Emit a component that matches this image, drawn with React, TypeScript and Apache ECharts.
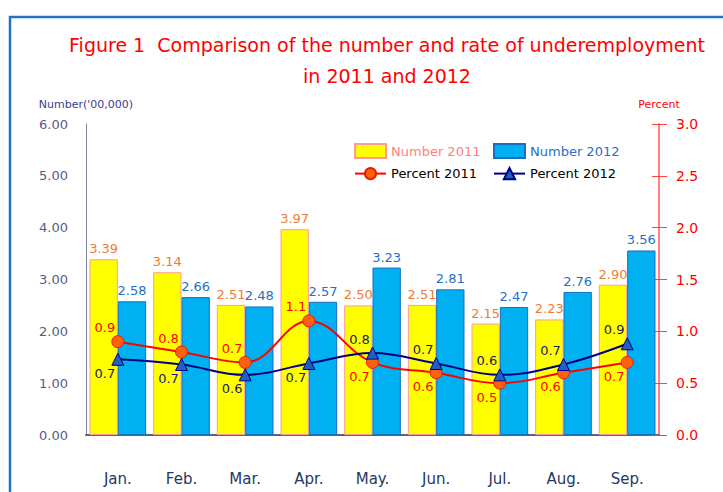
import React, { useEffect, useRef } from "react";
import * as echarts from "echarts";

const categories = ["Jan.", "Feb.", "Mar.", "Apr.", "May.", "Jun.", "Jul.", "Aug.", "Sep."];
const number2011 = [3.39, 3.14, 2.51, 3.97, 2.5, 2.51, 2.15, 2.23, 2.9];
const number2012 = [2.58, 2.66, 2.48, 2.57, 3.23, 2.81, 2.47, 2.76, 3.56];
const percent2011 = [0.9, 0.8, 0.7, 1.1, 0.7, 0.6, 0.5, 0.6, 0.7];
const percent2012 = [0.73, 0.68, 0.58, 0.69, 0.79, 0.69, 0.58, 0.68, 0.88];

const FONT = "DejaVu Sans";

export default function App() {
  const ref = useRef<HTMLDivElement>(null);
  useEffect(() => {
    if (!ref.current) return;
    const chart = echarts.init(ref.current, undefined, { renderer: "svg" });

    const above = (a: number, b: number) => a >= b;
    const pctLabel = (isAbove: boolean, color: string) => ({
      show: true,
      position: isAbove ? "top" : "bottom",
      distance: 1,
      offset: [-13, 0],
      color,
      fontSize: 13,
      fontFamily: FONT,
      formatter: (p: any) => Number(p.value).toFixed(1),
    });

    const option: any = {
      animation: false,
      backgroundColor: "#ffffff",
      textStyle: { fontFamily: FONT },
      title: {
        text: "Figure 1  Comparison of the number and rate of underemployment\nin 2011 and 2012",
        left: 382,
        top: 24,
        textAlign: "center",
        textStyle: {
          color: "#ff0000",
          fontSize: 19,
          fontWeight: "normal",
          fontFamily: FONT,
          lineHeight: 31,
        },
      },
      graphic: [
        {
          type: "rect",
          shape: { x: 10, y: 17, width: 760, height: 520 },
          style: { fill: "none", stroke: "#1f74c4", lineWidth: 2.5 },
          silent: true,
        },
      ],
      legend: [
        {
          orient: "vertical",
          left: 349,
          top: 138,
          itemWidth: 31,
          itemHeight: 14,
          itemGap: 8,
          textStyle: { fontSize: 13, fontFamily: FONT },
          data: [
            { name: "Number 2011", icon: "rect", textStyle: { color: "#ff8080" } },
            { name: "Percent 2011", textStyle: { color: "#000000" } },
          ],
        },
        {
          orient: "vertical",
          left: 488,
          top: 138,
          itemWidth: 31,
          itemHeight: 14,
          itemGap: 8,
          textStyle: { fontSize: 13, fontFamily: FONT },
          data: [
            { name: "Number 2012", icon: "rect", textStyle: { color: "#1f6fc8" } },
            { name: "Percent 2012", textStyle: { color: "#000000" } },
          ],
        },
      ],
      grid: { left: 86, right: 64, top: 124, bottom: 57 },
      xAxis: {
        type: "category",
        data: categories,
        axisLine: { lineStyle: { color: "#606078", width: 2 } },
        axisTick: { show: false },
        axisLabel: { color: "#1f3864", fontSize: 15, margin: 36, fontFamily: FONT },
      },
      yAxis: [
        {
          type: "value",
          min: 0,
          max: 6,
          interval: 1,
          name: "Number('00,000)",
          nameLocation: "end",
          nameGap: 14,
          nameTextStyle: { color: "#3c3c8c", fontSize: 11, fontFamily: FONT },
          axisLine: { show: true, lineStyle: { color: "#8080a0" } },
          axisTick: { show: false },
          splitLine: { show: false },
          axisLabel: {
            color: "#5a5a88",
            fontSize: 13,
            margin: 18,
            fontFamily: FONT,
            formatter: (v: number) => v.toFixed(2),
          },
        },
        {
          type: "value",
          min: 0,
          max: 3,
          interval: 0.5,
          position: "right",
          name: "Percent",
          nameLocation: "end",
          nameGap: 14,
          nameTextStyle: { color: "#ff0000", fontSize: 11, fontFamily: FONT },
          axisLine: { show: true, lineStyle: { color: "#ff8080", width: 2 } },
          axisTick: { show: true, inside: false, length: 8, lineStyle: { color: "#ff4040" } },
          splitLine: { show: false },
          axisLabel: {
            color: "#ff0000",
            fontSize: 14,
            margin: 17,
            fontFamily: FONT,
            formatter: (v: number) => v.toFixed(1),
          },
        },
        {
          type: "value",
          min: 0,
          max: 3,
          interval: 0.5,
          position: "right",
          axisLine: { show: false },
          axisTick: { show: true, inside: true, length: 7, lineStyle: { color: "#ff4040" } },
          splitLine: { show: false },
          axisLabel: { show: false },
        },
      ],
      series: [
        {
          name: "Number 2011",
          type: "bar",
          yAxisIndex: 0,
          data: number2011,
          barGap: "0%",
          barCategoryGap: "11%",
          itemStyle: { color: "#ffff00", borderColor: "#ff9a9a", borderWidth: 1 },
          label: {
            show: true,
            position: "top",
            distance: 4,
            color: "#f47a30",
            fontSize: 13,
            fontFamily: FONT,
            formatter: (p: any) => Number(p.value).toFixed(2),
          },
        },
        {
          name: "Number 2012",
          type: "bar",
          yAxisIndex: 0,
          data: number2012,
          itemStyle: { color: "#00b0f0", borderColor: "#1a6ec0", borderWidth: 1 },
          label: {
            show: true,
            position: "top",
            distance: 4,
            color: "#1f6fc8",
            fontSize: 13,
            fontFamily: FONT,
            formatter: (p: any) => Number(p.value).toFixed(2),
          },
        },
        {
          name: "Percent 2011",
          type: "line",
          yAxisIndex: 1,
          smooth: 0.4,
          symbol: "circle",
          symbolSize: 12,
          lineStyle: { color: "#ff0000", width: 2 },
          itemStyle: { color: "#ff6010", borderColor: "#e02000", borderWidth: 1 },
          data: percent2011.map((v, i) => ({
            value: v,
            label: pctLabel(above(v, percent2012[i]), "#ff0000"),
          })),
        },
        {
          name: "Percent 2012",
          type: "line",
          yAxisIndex: 1,
          smooth: 0.4,
          symbol: "triangle",
          symbolSize: 12,
          lineStyle: { color: "#000080", width: 2 },
          itemStyle: { color: "#2060c0", borderColor: "#000080", borderWidth: 1 },
          data: percent2012.map((v, i) => ({
            value: v,
            label: pctLabel(!above(percent2011[i], v), "#1a1a60"),
          })),
        },
      ],
    };
    chart.setOption(option);
    return () => chart.dispose();
  }, []);
  return (
    <div
      ref={ref}
      style={{ position: "fixed", left: 0, top: 0, width: 723, height: 492, background: "#fff" }}
    />
  );
}
